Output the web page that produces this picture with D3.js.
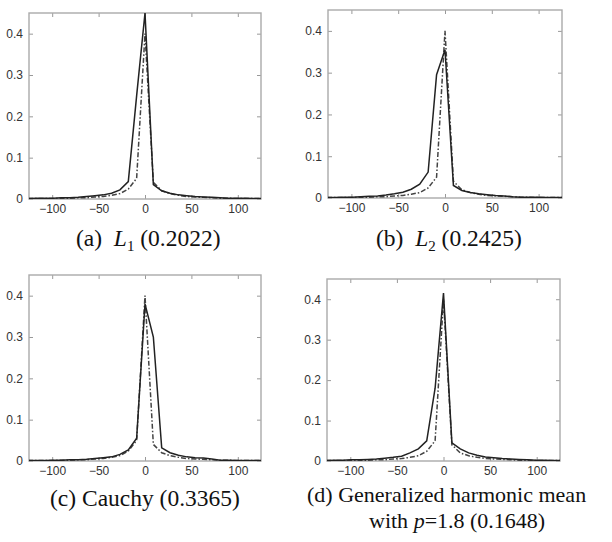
<!DOCTYPE html>
<html>
<head>
<meta charset="utf-8">
<script src="https://cdn.jsdelivr.net/npm/d3@7"></script>
<style>
  body { margin: 0; background: #fff; }
  svg { display: block; }
</style>
</head>
<body>
<div id="chart"></div>
<script>
// histogram bin centres shared by every panel
const binCenters = [-126, -117, -108, -99, -90, -81, -72, -63, -54, -45, -36, -27, -18, -9,
    0, 9, 18, 27, 36, 45, 54, 63, 72, 81, 90, 99, 108, 117, 126]

// dash-dot reference curve (same in every panel)
const truthValues = [0.001, 0.001, 0.001, 0.001, 0.002, 0.002, 0.003, 0.003, 0.005, 0.006, 0.009, 0.013, 0.024, 0.05,
    0.40, 0.04, 0.02, 0.013, 0.009, 0.006, 0.005, 0.004, 0.003, 0.002, 0.002, 0.001, 0.001, 0.001, 0.001]

// solid curves
const l1Values = [0.001, 0.002, 0.002, 0.002, 0.003, 0.003, 0.004, 0.006, 0.008, 0.010, 0.014, 0.022, 0.042, 0.25,
    0.45, 0.035, 0.02, 0.014, 0.010, 0.008, 0.006, 0.005, 0.004, 0.003, 0.002, 0.002, 0.002, 0.001, 0.001]
const l2Values = [0.001, 0.001, 0.002, 0.002, 0.003, 0.004, 0.005, 0.007, 0.010, 0.014, 0.021, 0.033, 0.062, 0.295,
    0.355, 0.03, 0.018, 0.013, 0.010, 0.008, 0.006, 0.005, 0.003, 0.002, 0.002, 0.002, 0.001, 0.001, 0.001]
const cauchyValues = [0.001, 0.001, 0.001, 0.002, 0.002, 0.003, 0.003, 0.004, 0.006, 0.008, 0.010, 0.016, 0.027, 0.055,
    0.38, 0.30, 0.032, 0.02, 0.014, 0.010, 0.008, 0.007, 0.005, 0.002, 0.002, 0.001, 0.001, 0.001, 0.001]
const ghmValues = [0.001, 0.002, 0.002, 0.003, 0.003, 0.004, 0.005, 0.007, 0.009, 0.012, 0.020, 0.030, 0.050, 0.18,
    0.415, 0.045, 0.03, 0.02, 0.014, 0.010, 0.008, 0.006, 0.005, 0.004, 0.003, 0.002, 0.002, 0.001, 0.001]

const xTicks = [-100, -50, 0, 50, 100]
const yTicks = [0, 0.1, 0.2, 0.3, 0.4]
const xDomain = [-125, 125]
const yDomain = [0, 0.45]

const W = 612, H = 542

const panels = [
    { id: 'a', values: l1Values, left: 29, top: 13, width: 232, height: 186 },
    { id: 'b', values: l2Values, left: 328, top: 10, width: 234, height: 188 },
    { id: 'c', values: cauchyValues, left: 29, top: 275, width: 232, height: 186 },
    { id: 'd', values: ghmValues, left: 327, top: 279, width: 233, height: 182 }
]

const svg = d3.select('#chart')
    .append('svg')
        .attr('width', W)
        .attr('height', H)

panels.forEach(p => {
    const g = svg.append('g')
        .attr('transform', `translate(${ p.left }, ${ p.top })`)

    const x = d3.scaleLinear().domain(xDomain).range([0, p.width])
    const y = d3.scaleLinear().domain(yDomain).range([p.height, 0])

    g.append('clipPath')
        .attr('id', 'clip-' + p.id)
        .append('rect')
            .attr('width', p.width)
            .attr('height', p.height)

    // axes, MATLAB style: ticks pointing inwards, box on all sides
    const styleAxis = sel => {
        sel.select('.domain').remove()
        sel.selectAll('line').attr('stroke', '#999')
        sel.selectAll('text')
            .attr('fill', '#333')
            .style('font-family', '"Liberation Sans", Arial, sans-serif')
            .style('font-size', '12px')
    }

    g.append('g')
        .attr('transform', `translate(0, ${ p.height })`)
        .call(d3.axisBottom(x).tickValues(xTicks).tickSizeInner(-4).tickSizeOuter(0).tickPadding(5))
        .call(styleAxis)
    g.append('g')
        .call(d3.axisTop(x).tickValues(xTicks).tickSizeInner(-4).tickSizeOuter(0).tickFormat(''))
        .call(styleAxis)
    g.append('g')
        .call(d3.axisLeft(y).tickValues(yTicks).tickSizeInner(-4).tickSizeOuter(0).tickPadding(6)
            .tickFormat(d => d === 0 ? '0' : d3.format('.1f')(d)))
        .call(styleAxis)
    g.append('g')
        .attr('transform', `translate(${ p.width }, 0)`)
        .call(d3.axisRight(y).tickValues(yTicks).tickSizeInner(-4).tickSizeOuter(0).tickFormat(''))
        .call(styleAxis)

    g.append('rect')
        .attr('width', p.width)
        .attr('height', p.height)
        .attr('fill', 'none')
        .attr('stroke', '#aaa')
        .attr('stroke-width', 1.4)

    const line = d3.line()
        .x((d, i) => x(binCenters[i]))
        .y(d => y(d))

    const plot = g.append('g').attr('clip-path', `url(#clip-${ p.id })`)

    plot.append('path')
        .datum(truthValues)
        .attr('d', line)
        .attr('fill', 'none')
        .attr('stroke', '#444')
        .attr('stroke-width', 1.5)
        .attr('stroke-dasharray', '5,2,1.5,2')

    plot.append('path')
        .datum(p.values)
        .attr('d', line)
        .attr('fill', 'none')
        .attr('stroke', '#222')
        .attr('stroke-width', 1.5)
})

// captions
const captionFont = '"Liberation Serif", "Times New Roman", serif'
const cap = (x, y, size) => svg.append('text')
    .attr('x', x)
    .attr('y', y)
    .attr('fill', '#111')
    .style('font-family', captionFont)
    .style('font-size', size + 'px')
    .attr('xml:space', 'preserve')

let t = cap(76, 246, 23.5)
t.append('tspan').text('(a)  ')
t.append('tspan').attr('font-style', 'italic').text('L')
t.append('tspan').attr('dy', 5).style('font-size', '15px').text('1')
t.append('tspan').attr('dy', -5).text(' (0.2022)')

t = cap(376, 246, 23.5)
t.append('tspan').text('(b)  ')
t.append('tspan').attr('font-style', 'italic').text('L')
t.append('tspan').attr('dy', 5).style('font-size', '15px').text('2')
t.append('tspan').attr('dy', -5).text(' (0.2425)')

cap(50, 506, 23.5).text('(c) Cauchy (0.3365)')

cap(307, 502, 22).text('(d) Generalized harmonic mean')
t = cap(369, 528, 22)
t.append('tspan').text('with ')
t.append('tspan').attr('font-style', 'italic').text('p')
t.append('tspan').text('=1.8 (0.1648)')
</script>
</body>
</html>
